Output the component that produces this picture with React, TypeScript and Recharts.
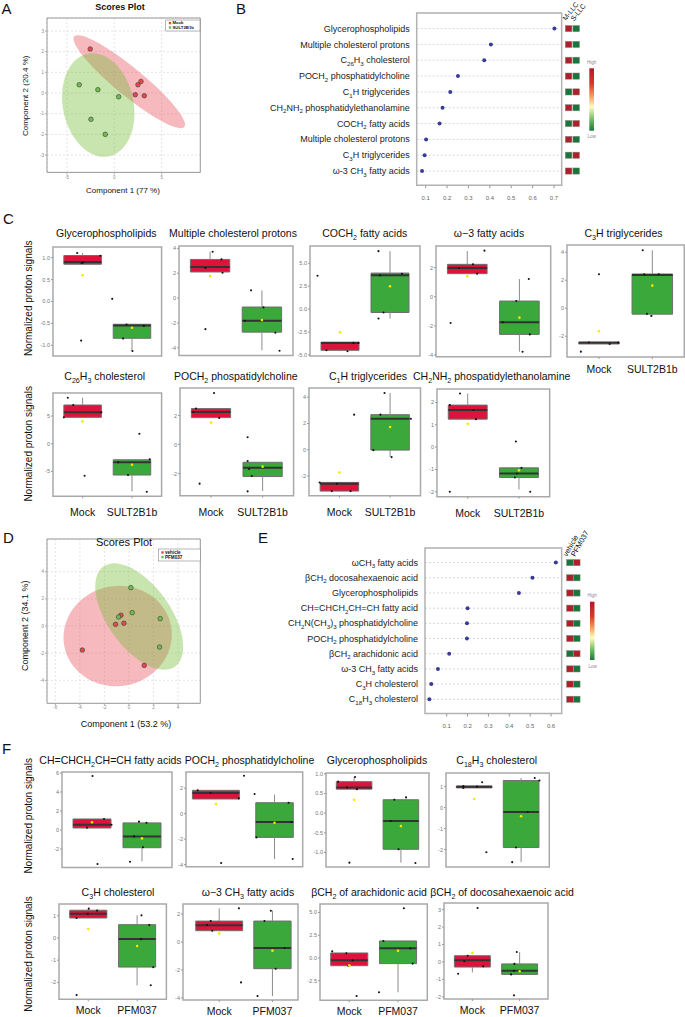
import React from "react";
import {
  ScatterChart,
  Scatter,
  XAxis,
  YAxis,
  CartesianGrid,
  ReferenceArea,
  ReferenceLine,
} from "recharts";

const FONT = "'Liberation Sans', Arial, Helvetica, sans-serif";
const RED_BOX = "#dc143c";
const GREEN_BOX = "#3aa83a";
const HEAT_HI = "#b01e28";
const HEAT_LO = "#18763a";
const PT_RED = "#e5484d";
const PT_GREEN = "#6cc04a";
const ELL_FILLS = ["rgba(230,80,92,0.4)", "rgba(117,187,55,0.4)"];

type XY = [number, number];
type Box = [number, number, number, number, number]; // lo whisker, q1, median, q3, hi whisker
type Frame = { l: number; t: number; r: number; b: number };

// ---------- A: scores plot, Mock vs SULT2B1b ----------
const A_MOCK: XY[] = [[-2.54, 2.13], [2.5, 0.4], [2.82, 0.56], [2.22, -0.08], [3.17, -0.13]];
const A_SULT: XY[] = [[-3.7, 0.4], [-1.73, 0.16], [0.46, -0.18], [-2.46, -1.27], [-0.95, -2.0]];
// ellipse = centre + two half-axis vectors, in data units
const A_ELLIPSES = [
  { c: [1.58, 0.55], u: [5.81, -2.19], v: [-0.94, -0.52] },
  { c: [-1.69, -0.58], u: [1.13, -2.48], v: [3.65, 0.35] },
];

// ---------- B: VIP scores ----------
const B_LABELS = [
  "Glycerophospholipids",
  "Multiple cholesterol protons",
  "C_{26}H_{3} cholesterol",
  "POCH_{2} phosphatidylcholine",
  "C_{1}H triglycerides",
  "CH_{2}NH_{2} phosphatidylethanolamine",
  "COCH_{2} fatty acids",
  "Multiple cholesterol protons",
  "C_{3}H triglycerides",
  "ω-3 CH_{3} fatty acids",
];
const B_VIP = [0.702, 0.405, 0.374, 0.251, 0.215, 0.179, 0.165, 0.102, 0.095, 0.083];
const B_HEAT = [[1, 0], [1, 0], [1, 0], [1, 0], [0, 1], [1, 0], [0, 1], [1, 0], [0, 1], [1, 0]];
const B_GROUPS = ["M-LLC", "S-LLC"];
const B_XTICKS = [0.1, 0.2, 0.3, 0.4, 0.5, 0.6, 0.7];

// ---------- C: box plots Mock vs SULT2B1b ----------
const C_GROUPS = ["Mock", "SULT2B1b"];
const C_TITLES = [
  "Glycerophospholipids",
  "Multiple cholesterol protons",
  "COCH_{2} fatty acids",
  "ω−3 fatty acids",
  "C_{3}H triglycerides",
  "C_{26}H_{3} cholesterol",
  "POCH_{2} phospatidylcholine",
  "C_{1}H triglycerides",
  "CH_{2}NH_{2} phospatidylethanolamine",
];
const C_MOCK_PTS: XY[][] = [
  [[0.89, 1.107], [0.98, 0.878], [1.01, 0.893], [1.36, 1.046], [0.97, -0.893]],
  [[1.05, 3.73], [1.22, 3.11], [0.91, 2.42], [1.24, 2.04], [0.91, -2.5]],
  [[0.55, 3.64], [0.73, -4.49], [1.15, -4.6], [1.27, -3.68], [1.37, -3.68]],
  [[0.84, 1.97], [1.11, 2.22], [1.19, 1.58], [1.33, 3.16], [0.68, -1.81]],
  [[0.66, -3.1], [0.81, -2.45], [1.0, 2.43], [1.2, -2.55], [1.36, -2.45]],
  [[0.7, 8.31], [0.81, 6.99], [0.62, 4.76], [1.38, 5.66], [1.04, -5.78]],
  [[1.06, 3.56], [0.71, 2.48], [0.66, 2.25], [1.16, 1.84], [0.78, -2.69]],
  [[0.61, -2.49], [0.95, -2.59], [0.85, -3.15], [1.22, -3.15], [1.29, 2.67]],
  [[0.85, 2.4], [0.65, 1.88], [1.11, 1.66], [1.16, 1.25], [0.65, -2.0]],
];
const C_TRT_PTS: XY[][] = [
  [[1.6, 0.061], [1.89, -0.527], [1.82, -0.847], [2.24, -0.557], [2.01, -1.13]],
  [[1.79, 0.62], [2.03, -0.75], [1.67, -1.83], [2.26, -2.79], [2.34, -4.24]],
  [[1.77, 6.32], [1.8, 3.68], [2.24, 3.86], [1.87, -0.37], [1.77, -1.03]],
  [[1.94, -0.3], [2.18, 1.21], [1.68, -1.76], [2.2, -2.59], [2.06, -3.78]],
  [[1.82, 4.14], [1.85, 2.43], [2.12, 2.43], [1.9, -0.4], [1.98, -0.55]],
  [[2.15, 1.81], [1.72, -3.37], [2.36, -2.83], [1.92, -5.66], [2.3, -8.67]],
  [[1.71, 0.51], [1.71, -1.13], [1.74, -1.68], [1.79, -2.16], [1.71, -3.22]],
  [[1.89, 4.32], [1.81, 2.67], [2.41, 2.36], [1.67, -0.03], [2.03, -0.56]],
  [[1.94, 0.25], [2.05, -0.93], [1.96, -1.18], [1.92, -1.36], [2.22, -2.0]],
];
const C_MOCK_BOX: Box[] = [
  [0.85, 0.85, 0.9, 1.05, 1.107],
  [2.1, 2.1, 2.5, 3.11, 3.73],
  [-4.6, -4.49, -3.68, -3.6, -3.6],
  [1.58, 1.58, 1.97, 2.22, 3.13],
  [-2.55, -2.55, -2.45, -2.45, -2.45],
  [4.76, 4.76, 5.66, 6.99, 8.31],
  [1.86, 1.86, 2.25, 2.48, 2.48],
  [-3.15, -3.15, -2.59, -2.49, -2.49],
  [1.25, 1.25, 1.66, 1.88, 2.4],
];
const C_TRT_BOX: Box[] = [
  [-1.13, -0.84, -0.55, -0.52, -0.52],
  [-4.2, -2.74, -1.83, -0.72, 0.62],
  [-1.03, -0.37, 3.68, 3.93, 6.32],
  [-3.78, -2.59, -1.76, -0.3, 1.21],
  [-0.55, -0.42, 2.38, 2.45, 4.14],
  [-8.6, -5.66, -3.37, -2.9, -2.9],
  [-3.2, -2.2, -1.6, -1.22, -1.22],
  [-0.56, -0.03, 2.36, 2.67, 4.32],
  [-1.9, -1.36, -1.18, -0.93, -0.93],
];
const C_MEANS: XY[] = [
  [0.6, -0.6], [1.77, -1.77], [-2.54, 2.5], [1.4, -1.44], [-1.64, 1.62],
  [4.04, -3.8], [1.52, -1.52], [-1.73, 1.73], [1.04, -1.04],
];
const C_YTICKS = [
  [1, 0.5, 0, -0.5, -1], [4, 2, 0, -2, -4], [5, 2.5, 0, -2.5, -5], [2, 0, -2, -4], [4, 2, 0, -2],
  [5, 0, -5], [2, 0, -2], [4, 2, 0, -2], [2, 1, 0, -1, -2],
];

// ---------- D: scores plot, vehicle vs PFM037 ----------
const D_VEH: XY[] = [[-0.65, 0.79], [-1.09, 0.12], [-0.41, 0.2], [-3.8, -1.77], [1.25, -2.9]];
const D_PFM: XY[] = [[0.16, 2.82], [-0.84, 0.66], [0.27, 0.98], [2.55, 0.54], [2.5, -1.55]];
const D_ELLIPSES = [
  { c: [-0.92, -0.74], u: [4.35, 0.74], v: [0.75, -3.62] },
  { c: [0.84, 0.69], u: [2.92, -3.68], v: [2.08, 1.34] },
];

// ---------- E: VIP scores ----------
const E_LABELS = [
  "ωCH_{3} fatty acids",
  "βCH_{2} docosahexaenoic acid",
  "Glycerophospholipids",
  "CH=CHCH_{2}CH=CH fatty acid",
  "CH_{2}N(CH_{3})_{3} phosphatidylcholine",
  "POCH_{2} phosphatidylcholine",
  "βCH_{2} arachidonic acid",
  "ω-3 CH_{3} fatty acids",
  "C_{3}H cholesterol",
  "C_{18}H_{3} cholesterol",
];
const E_VIP = [0.623, 0.511, 0.446, 0.2, 0.197, 0.197, 0.112, 0.058, 0.026, 0.017];
const E_HEAT = [[0, 1], [1, 0], [1, 0], [1, 0], [1, 0], [1, 0], [0, 1], [1, 0], [1, 0], [1, 0]];
const E_GROUPS = ["vehicle", "PFM037"];
const E_XTICKS = [0.1, 0.2, 0.3, 0.4, 0.5, 0.6];

// ---------- F: box plots Mock vs PFM037 ----------
const F_GROUPS = ["Mock", "PFM037"];
const F_TITLES = [
  "CH=CHCH_{2}CH=CH fatty acids",
  "POCH_{2} phosphatidylcholine",
  "Glycerophospholipids",
  "C_{18}H_{3} cholesterol",
  "C_{3}H cholesterol",
  "ω−3 CH_{3} fatty acids",
  "βCH_{2} of arachidonic acid",
  "βCH_{2} of docosahexaenoic acid",
];
const F_MOCK_PTS: XY[][] = [
  [[1.01, 5.68], [1.24, 1.16], [1.39, 0.56], [0.9, 0.25], [1.11, -3.58]],
  [[0.69, 1.83], [0.91, 1.62], [1.39, 1.2], [1.48, 2.98], [1.09, -3.87]],
  [[1.02, 0.92], [0.66, 0.8], [0.85, 0.65], [1.06, 0.61], [0.9, -1.26]],
  [[0.77, 1.03], [0.77, 0.94], [1.06, 1.0], [1.17, 1.21], [1.26, -2.13]],
  [[1.01, 1.32], [1.18, 1.23], [0.99, 1.09], [0.76, 0.9], [0.76, -2.57]],
  [[0.77, 1.22], [0.84, 1.5], [0.87, 0.81], [1.37, 2.41], [1.41, -2.89]],
  [[0.65, 0.73], [0.94, 0.51], [1.07, -0.26], [1.15, -4.18], [0.98, -0.85]],
  [[1.11, 3.09], [0.9, 0.36], [0.83, 0.04], [1.23, -0.25], [0.7, -0.67]],
];
const F_TRT_PTS: XY[][] = [
  [[1.94, 0.88], [2.09, 0.77], [1.84, -0.67], [2.02, -1.82], [1.76, -3.33]],
  [[1.66, 1.54], [2.24, 0.86], [2.29, -0.65], [1.69, -1.86], [2.31, -3.56]],
  [[1.86, 0.34], [2.11, 0.4], [1.78, -0.2], [1.95, -0.92], [2.31, -1.27]],
  [[2.29, 1.41], [2.39, 1.29], [2.14, -0.21], [1.89, -1.9], [1.81, -2.6]],
  [[2.09, 1.02], [2.25, 0.58], [2.08, -0.05], [2.33, -1.32], [2.28, -2.13]],
  [[1.97, 2.24], [1.85, 1.5], [2.23, -0.43], [2.06, -1.91], [1.72, -3.87]],
  [[1.7, 1.87], [2.12, 5.46], [2.25, 1.06], [2.3, -0.62], [1.61, -3.77]],
  [[1.94, 0.57], [1.89, -0.11], [1.88, -0.5], [1.82, -0.71], [1.88, -1.91]],
];
const F_MOCK_BOX: Box[] = [
  [0.21, 0.21, 0.56, 1.16, 1.16],
  [1.15, 1.15, 1.62, 1.83, 1.83],
  [0.61, 0.61, 0.65, 0.8, 0.92],
  [0.94, 0.94, 1.0, 1.03, 1.03],
  [0.9, 0.9, 1.09, 1.25, 1.32],
  [0.81, 0.81, 1.2, 1.5, 2.41],
  [-0.85, -0.85, -0.26, 0.55, 0.55],
  [-0.6, -0.29, 0.1, 0.36, 0.36],
];
const F_TRT_BOX: Box[] = [
  [-3.3, -1.86, -0.67, 0.75, 0.75],
  [-3.56, -1.86, -0.65, 0.86, 1.5],
  [-1.26, -0.92, -0.2, 0.34, 0.34],
  [-2.6, -1.9, -0.21, 1.29, 1.41],
  [-2.13, -1.31, -0.04, 0.6, 1.02],
  [-3.87, -1.91, -0.43, 1.5, 2.24],
  [-3.77, -0.62, 1.06, 1.87, 1.87],
  [-0.71, -0.71, -0.5, -0.11, 0.57],
];
const F_MEANS: XY[] = [
  [0.81, -0.88], [0.76, -0.71], [0.34, -0.33], [0.41, -0.41],
  [0.4, -0.36], [0.62, -0.62], [-0.81, 0.8], [0.52, -0.53],
];
const F_YTICKS = [
  [6, 4, 2, 0, -2], [2, 0, -2, -4], [1, 0.5, 0, -0.5, -1], [1, 0, -1, -2],
  [1, 0, -1, -2], [2, 0, -2, -4], [5, 2.5, 0, -2.5], [3, 2, 1, 0, -1, -2],
];

// ---------- layout ----------
const C_FRAMES: Frame[] = [
  { l: 53, t: 246.5, r: 161.6, b: 355.5 },
  { l: 179, t: 246, r: 293, b: 355.5 },
  { l: 310, t: 246, r: 420, b: 356 },
  { l: 436, t: 246, r: 550.7, b: 356.7 },
  { l: 566.7, t: 245.3, r: 684, b: 357.3 },
  { l: 53, t: 392.7, r: 161.6, b: 496 },
  { l: 180, t: 388.3, r: 293.6, b: 496 },
  { l: 309, t: 388.3, r: 420.5, b: 496 },
  { l: 437.3, t: 389, r: 550, b: 496.7 },
];
const C_YDOM: XY[] = [
  [-1.244, 1.244], [-4.62, 4.19], [-5.11, 6.88], [-4.12, 3.48], [-3.48, 4.52],
  [-9.5, 9.16], [-3.52, 3.9], [-3.5, 4.7], [-2.22, 2.6],
];
const C_YDEC = [1, 0, 1, 0, 0, 0, 0, 0, 0];
const C_TITLE_AT: XY[] = [
  [106.3, 233.3], [233, 233.3], [364.7, 233.3], [489, 233.3], [623.5, 233.3],
  [104.7, 376.7], [235.8, 376.7], [368, 376.7], [491.7, 376.7],
];
const C_LABEL_GAP = [0, 0, 0, 0, 12.7, 16.3, 16.3, 16.3, 16.3];

const F_FRAMES: Frame[] = [
  { l: 61.7, t: 772.3, r: 171.7, b: 867.7 },
  { l: 186, t: 772.3, r: 302.7, b: 867 },
  { l: 326, t: 773.3, r: 429, b: 867.3 },
  { l: 445.7, t: 773.3, r: 549, b: 867.3 },
  { l: 59.3, t: 904, r: 166.7, b: 999.3 },
  { l: 182.7, t: 904, r: 297.7, b: 1000 },
  { l: 320, t: 904, r: 427.3, b: 1000.3 },
  { l: 444.3, t: 903.3, r: 548.3, b: 999.3 },
];
const F_YDOM: XY[] = [
  [-3.93, 6.1], [-4.16, 3.27], [-1.37, 1.02], [-2.83, 1.65],
  [-2.76, 1.53], [-4.15, 2.72], [-4.65, 5.93], [-2.12, 3.38],
];
const F_YDEC = [0, 0, 1, 0, 0, 0, 1, 0];
const F_XDOM: XY[] = [
  [0.4, 2.6], [0.49, 2.48], [0.4, 2.6], [0.4, 2.6],
  [0.4, 2.6], [0.32, 2.48], [0.4, 2.6], [0.4, 2.6],
];
const F_HALF: XY[] = [
  [0.38, 0.38], [0.4, 0.32], [0.38, 0.38], [0.38, 0.38],
  [0.38, 0.38], [0.44, 0.35], [0.38, 0.38], [0.38, 0.38],
];
const F_TITLE_AT: XY[] = [
  [110.5, 760.7], [249.5, 760.7], [377, 760.7], [496.7, 760.7],
  [118, 892.3], [248, 892.3], [369, 892.3], [502, 892.3],
];
const F_LABEL_GAP = [0, 0, 0, 0, 11, 11, 11, 11];

// text with _{sub} markup -> svg tspans
function rich(s: string, fs: number) {
  const parts = s.split(/(_\{[^}]*\})/).filter((p) => p.length > 0);
  const shift = fs * 0.28;
  let down = false;
  return parts.map((p, i) => {
    if (p.startsWith("_{")) {
      const el = (
        <tspan key={i} dy={down ? 0 : shift} fontSize={fs * 0.68}>
          {p.slice(2, -1)}
        </tspan>
      );
      down = true;
      return el;
    }
    const el = (
      <tspan key={i} dy={down ? -shift : 0}>
        {p}
      </tspan>
    );
    down = false;
    return el;
  });
}

const toXY = (pts: XY[]) => pts.map(([x, y]) => ({ x, y }));

const dot = (r: number, fill: string, stroke?: string) => (p: any) =>
  <circle cx={p.cx} cy={p.cy} r={r} fill={fill} stroke={stroke || "none"} strokeWidth={0.6} />;

const ellipseShape = (e: any, kx: number, ky: number, fill: string) => (p: any) => {
  let d = "";
  for (let k = 0; k <= 72; k++) {
    const t = (Math.PI * 2 * k) / 72;
    const dx = (e.u[0] * Math.cos(t) + e.v[0] * Math.sin(t)) * kx;
    const dy = -(e.u[1] * Math.cos(t) + e.v[1] * Math.sin(t)) * ky;
    d += (k ? "L" : "M") + (p.cx + dx).toFixed(2) + "," + (p.cy + dy).toFixed(2);
  }
  return <path d={d + "Z"} fill={fill} stroke="none" />;
};

function ScoresPlot({ f, xd, yd, xt, yt, sets, ellipses }: any) {
  const yw = 10;
  const xh = 10;
  const pw = f.r - f.l;
  const ph = f.b - f.t;
  const kx = pw / (xd[1] - xd[0]);
  const ky = ph / (yd[1] - yd[0]);
  return (
    <div style={{ position: "absolute", left: f.l - yw, top: f.t - 1 }}>
      <ScatterChart width={pw + yw + 2} height={ph + 1 + xh} margin={{ top: 1, right: 2, bottom: 0, left: 0 }}>
        <CartesianGrid stroke="#e4e4e4" strokeDasharray="2 2" />
        <XAxis type="number" dataKey="x" domain={xd} ticks={xt} allowDataOverflow interval={0} height={xh}
          axisLine={false} tickSize={2} tickMargin={1} tickLine={{ stroke: "#aaa" }}
          tick={{ fontSize: 4.5, fill: "#888", fontFamily: FONT }} />
        <YAxis type="number" dataKey="y" domain={yd} ticks={yt} allowDataOverflow interval={0} width={yw}
          axisLine={false} tickSize={2} tickMargin={1} tickLine={{ stroke: "#aaa" }}
          tick={{ fontSize: 4.5, fill: "#888", fontFamily: FONT }} />
        {ellipses.map((e: any, i: number) => (
          <Scatter key={"e" + i} data={[{ x: e.c[0], y: e.c[1] }]} shape={ellipseShape(e, kx, ky, ELL_FILLS[i])}
            isAnimationActive={false} />
        ))}
        {sets.map((s: any, i: number) => (
          <Scatter key={"s" + i} data={toXY(s.pts)} shape={dot(2.3, s.color, "#3a3a3a")} isAnimationActive={false} />
        ))}
        <ReferenceArea x1={xd[0]} x2={xd[1]} y1={yd[0]} y2={yd[1]} fill="none" stroke="#999" strokeWidth={1}
          ifOverflow="visible" />
      </ScatterChart>
    </div>
  );
}

const NameTick = (props: any) => {
  const { x, y, payload, names } = props;
  return (
    <text x={x} y={y + 3.1} textAnchor="end" fontSize={9} fill="#222" fontFamily={FONT}>
      {rich(names[payload.value - 1], 9)}
    </text>
  );
};

function VipPlot({ f, labelLeft, names, vals, xd, xt, yd }: any) {
  const yw = f.l - labelLeft;
  const xh = 20;
  const ph = f.b - f.t;
  const data = vals.map((v: number, i: number) => ({ x: v, y: i + 1 }));
  const rows = names.map((_: string, i: number) => i + 1);
  return (
    <div style={{ position: "absolute", left: labelLeft, top: f.t - 1 }}>
      <ScatterChart width={f.r - labelLeft + 2} height={ph + 1 + xh} margin={{ top: 1, right: 2, bottom: 0, left: 0 }}>
        <CartesianGrid vertical={false} stroke="#d8d8d8" strokeDasharray="2 2" />
        <XAxis type="number" dataKey="x" domain={xd} ticks={xt} allowDataOverflow interval={0} height={xh}
          axisLine={false} tickSize={3} tickMargin={7} tickLine={{ stroke: "#999" }}
          tick={{ fontSize: 6, fill: "#666", fontFamily: FONT }} tickFormatter={(v: number) => v.toFixed(1)} />
        <YAxis type="number" dataKey="y" domain={yd} reversed ticks={rows} allowDataOverflow interval={0} width={yw}
          axisLine={false} tickLine={false} tickSize={0} tickMargin={7}
          tick={(p: any) => <NameTick {...p} names={names} />} />
        <Scatter data={data} shape={dot(2, "#3a3a98")} isAnimationActive={false} />
        <ReferenceArea x1={xd[0]} x2={xd[1]} y1={yd[0]} y2={yd[1]} fill="none" stroke="#b3b3b3" strokeWidth={1.5}
          ifOverflow="visible" />
      </ScatterChart>
    </div>
  );
}

const cellShape = (p: any) => (
  <rect x={p.cx - 3.3} y={p.cy - 3.1} width={6.6} height={6.2} fill={p.payload.h ? HEAT_HI : HEAT_LO}
    stroke="#8a8a8a" strokeWidth={0.5} />
);

function HeatColumn({ left, width, f, yd, heat }: any) {
  const cells = heat.flatMap((row: number[], i: number) => row.map((h, j) => ({ x: j + 1, y: i + 1, h })));
  return (
    <div style={{ position: "absolute", left, top: f.t - 1 }}>
      <ScatterChart width={width} height={f.b - f.t + 1} margin={{ top: 1, right: 0, bottom: 0, left: 0 }}>
        <XAxis type="number" dataKey="x" domain={[0, 3]} allowDataOverflow hide />
        <YAxis type="number" dataKey="y" domain={yd} reversed allowDataOverflow hide />
        <Scatter data={cells} shape={cellShape} isAnimationActive={false} />
      </ScatterChart>
    </div>
  );
}

function BoxPlot({ f, yd, yt, dec, xd, half, mockPts, trtPts, mockBox, trtBox, means, groups, gap }: any) {
  const yw = 14;
  const xh = gap ? gap + 8 : 3;
  const w = f.r - f.l + yw + 2;
  const h = f.b - f.t + 1 + xh;
  const boxes: Box[] = [mockBox, trtBox];
  const fills = [RED_BOX, GREEN_BOX];
  return (
    <div style={{ position: "absolute", left: f.l - yw, top: f.t - 1 }}>
      <ScatterChart width={w} height={h} margin={{ top: 1, right: 2, bottom: 0, left: 0 }}>
        <XAxis type="number" dataKey="x" domain={xd} allowDataOverflow ticks={[1, 2]} interval={0} height={xh}
          axisLine={false} tickSize={2} tickLine={{ stroke: "#999" }} tickMargin={gap ? gap - 5.7 : 0}
          tick={gap ? { fontSize: 10.5, fill: "#111", fontFamily: FONT } : false}
          tickFormatter={(v: number) => groups[v - 1]} />
        <YAxis type="number" dataKey="y" domain={yd} allowDataOverflow ticks={yt} interval={0} width={yw}
          axisLine={false} tickSize={2} tickMargin={1} tickLine={{ stroke: "#999" }}
          tick={{ fontSize: 5.5, fill: "#777", fontFamily: FONT }} tickFormatter={(v: number) => v.toFixed(dec)} />
        {boxes.map((b, g) => {
          const c = g + 1;
          const hw = half[g];
          return [
            b[0] < b[1] ? (
              <ReferenceLine key={"wl" + g} segment={[{ x: c, y: b[0] }, { x: c, y: b[1] }]} stroke="#8c8c8c" strokeWidth={1} />
            ) : null,
            b[4] > b[3] ? (
              <ReferenceLine key={"wh" + g} segment={[{ x: c, y: b[3] }, { x: c, y: b[4] }]} stroke="#8c8c8c" strokeWidth={1} />
            ) : null,
            <ReferenceArea key={"b" + g} x1={c - hw} x2={c + hw} y1={b[1]} y2={b[3]} fill={fills[g]} fillOpacity={1}
              stroke="#6e6e6e" strokeWidth={1} />,
            <ReferenceLine key={"m" + g} segment={[{ x: c - hw, y: b[2] }, { x: c + hw, y: b[2] }]} stroke="#333"
              strokeWidth={2} />,
          ];
        })}
        <Scatter data={toXY(mockPts)} shape={dot(1.05, "#111")} isAnimationActive={false} />
        <Scatter data={toXY(trtPts)} shape={dot(1.05, "#111")} isAnimationActive={false} />
        <Scatter data={[{ x: 1, y: means[0] }, { x: 2, y: means[1] }]} shape={dot(1.3, "#f7e600")}
          isAnimationActive={false} />
        <ReferenceArea x1={xd[0]} x2={xd[1]} y1={yd[0]} y2={yd[1]} fill="none" stroke="#a9a9a9" strokeWidth={1.5}
          ifOverflow="visible" />
      </ScatterChart>
    </div>
  );
}

const T = ({ x, y, fs, children, anchor = "middle", weight, fill = "#111", rotate }: any) => (
  <text x={x} y={y} fontSize={fs} textAnchor={anchor} fontWeight={weight} fill={fill} fontFamily={FONT}
    transform={rotate ? `rotate(${rotate} ${x} ${y})` : undefined}>
    {children}
  </text>
);

function Overlay() {
  const nps = [298.3, 443.8, 815.8, 954];
  return (
    <svg width={685} height={1017} style={{ position: "absolute", left: 0, top: 0, pointerEvents: "none", zIndex: 2 }}>
      <defs>
        <linearGradient id="hm" x1="0" y1="0" x2="0" y2="1">
          <stop offset="0" stopColor="#b2182b" />
          <stop offset="0.25" stopColor="#d73a2a" />
          <stop offset="0.45" stopColor="#f4a05a" />
          <stop offset="0.62" stopColor="#fffbc4" />
          <stop offset="0.8" stopColor="#7cc46a" />
          <stop offset="1" stopColor="#1a7a3a" />
        </linearGradient>
      </defs>
      {/* panel letters */}
      <T x={1.5} y={13.6} fs={15} anchor="start">A</T>
      <T x={236} y={13.8} fs={15} anchor="start">B</T>
      <T x={3} y={224} fs={15} anchor="start">C</T>
      <T x={3} y={543} fs={15} anchor="start">D</T>
      <T x={258} y={543} fs={15} anchor="start">E</T>
      <T x={2} y={753.5} fs={15} anchor="start">F</T>

      {/* A */}
      <T x={120} y={10.4} fs={9} weight="bold">Scores Plot</T>
      <T x={123} y={192.5} fs={8}>Component 1 (77 %)</T>
      <T x={28.3} y={95.8} fs={8} rotate={-90}>Component 2 (20.4 %)</T>
      <rect x={165.7} y={20} width={34.3} height={11} fill="#fff" stroke="#888" strokeWidth={0.6} />
      <rect x={168.8} y={21.9} width={2.4} height={2.4} fill={PT_RED} />
      <T x={172.5} y={24.4} fs={4.3} anchor="start" weight="bold">Mock</T>
      <rect x={168.8} y={26.3} width={2.4} height={2.4} fill={PT_GREEN} />
      <T x={172.5} y={28.8} fs={4.3} anchor="start" weight="bold">SULT2B1b</T>

      {/* B heat headers and colour key */}
      {B_GROUPS.map((g, i) => (
        <T key={g} x={566 + i * 8} y={21 + i * 0.6} fs={7} anchor="start" rotate={-52}>{g}</T>
      ))}
      <rect x={589.3} y={68.3} width={4.7} height={62.4} fill="url(#hm)" />
      <T x={591.7} y={64.2} fs={4.5} fill="#888">High</T>
      <T x={591.7} y={137.5} fs={4.5} fill="#888">Low</T>

      {/* C / F titles and y labels */}
      {C_TITLES.map((s, i) => (
        <T key={"ct" + i} x={C_TITLE_AT[i][0]} y={C_TITLE_AT[i][1] + 3.5} fs={10.5}>{rich(s, 10.5)}</T>
      ))}
      {F_TITLES.map((s, i) => (
        <T key={"ft" + i} x={F_TITLE_AT[i][0]} y={F_TITLE_AT[i][1] + 3.5} fs={10.5}>{rich(s, 10.5)}</T>
      ))}
      {nps.map((y, i) => (
        <T key={"np" + i} x={28.3} y={y} fs={10} rotate={-90}>
          <tspan dy={3.4}>Normalized proton signals</tspan>
        </T>
      ))}

      {/* D */}
      <T x={124} y={546} fs={11}>Scores Plot</T>
      <T x={126} y={727} fs={9}>Component 1 (53.2 %)</T>
      <T x={28.3} y={625.8} fs={9} rotate={-90}>Component 2 (34.1 %)</T>
      <rect x={158.3} y={549} width={42} height={12} fill="#fff" stroke="#888" strokeWidth={0.6} />
      <rect x={161.3} y={551.3} width={2.4} height={2.4} fill={PT_RED} />
      <T x={165} y={553.9} fs={4.6} anchor="start" weight="bold">vehicle</T>
      <rect x={161.3} y={555.9} width={2.4} height={2.4} fill={PT_GREEN} />
      <T x={165} y={558.5} fs={4.6} anchor="start" weight="bold">PFM037</T>

      {/* E heat headers and colour key */}
      {E_GROUPS.map((g, i) => (
        <T key={g} x={567 + i * 8} y={557} fs={7.5} anchor="start" rotate={-60}>{g}</T>
      ))}
      <rect x={590} y={601.7} width={4.5} height={58.3} fill="url(#hm)" />
      <T x={592.2} y={597.2} fs={4.5} fill="#888">High</T>
      <T x={592.7} y={667.8} fs={4.5} fill="#888">Low</T>
    </svg>
  );
}

export default function App() {
  const bFrame = { l: 416.7, t: 12.7, r: 561.7, b: 185 };
  const eFrame = { l: 425, t: 547.7, r: 561.7, b: 713.3 };
  const bYd = [0.014, 10.9];
  const eYd = [0.04, 10.94];
  return (
    <div style={{ position: "absolute", left: 0, top: 0, width: 685, height: 1017, background: "#fff",
      fontFamily: FONT, overflow: "hidden" }}>
      <ScoresPlot f={{ l: 46.7, t: 18.3, r: 200, b: 172.7 }} xd={[-7.1, 9.08]} yd={[-3.84, 3.63]}
        xt={[-5, 0, 5]} yt={[-3, -2, -1, 0, 1, 2, 3]} ellipses={A_ELLIPSES}
        sets={[{ pts: A_MOCK, color: PT_RED }, { pts: A_SULT, color: PT_GREEN }]} />

      <VipPlot f={bFrame} labelLeft={100} names={B_LABELS} vals={B_VIP} xd={[0.058, 0.736]} xt={B_XTICKS} yd={bYd} />
      <HeatColumn left={560.7} width={22.8} f={bFrame} yd={bYd} heat={B_HEAT} />

      {C_TITLES.map((_, i) => (
        <BoxPlot key={"c" + i} f={C_FRAMES[i]} yd={C_YDOM[i]} yt={C_YTICKS[i]} dec={C_YDEC[i]} xd={[0.4, 2.6]}
          half={[0.38, 0.38]} mockPts={C_MOCK_PTS[i]} trtPts={C_TRT_PTS[i]} mockBox={C_MOCK_BOX[i]}
          trtBox={C_TRT_BOX[i]} means={C_MEANS[i]} groups={C_GROUPS} gap={C_LABEL_GAP[i]} />
      ))}

      <ScoresPlot f={{ l: 46.7, t: 539, r: 200, b: 703.3 }} xd={[-6.68, 5.82]} yd={[-5.69, 6.4]}
        xt={[-6, -4, -2, 0, 2, 4]} yt={[-4, -2, 0, 2, 4]} ellipses={D_ELLIPSES}
        sets={[{ pts: D_VEH, color: PT_RED }, { pts: D_PFM, color: PT_GREEN }]} />

      <VipPlot f={eFrame} labelLeft={100} names={E_LABELS} vals={E_VIP} xd={[-0.004, 0.651]} xt={E_XTICKS} yd={eYd} />
      <HeatColumn left={563.4} width={20.7} f={eFrame} yd={eYd} heat={E_HEAT} />

      {F_TITLES.map((_, i) => (
        <BoxPlot key={"f" + i} f={F_FRAMES[i]} yd={F_YDOM[i]} yt={F_YTICKS[i]} dec={F_YDEC[i]} xd={F_XDOM[i]}
          half={F_HALF[i]} mockPts={F_MOCK_PTS[i]} trtPts={F_TRT_PTS[i]} mockBox={F_MOCK_BOX[i]}
          trtBox={F_TRT_BOX[i]} means={F_MEANS[i]} groups={F_GROUPS} gap={F_LABEL_GAP[i]} />
      ))}

      <Overlay />
    </div>
  );
}
